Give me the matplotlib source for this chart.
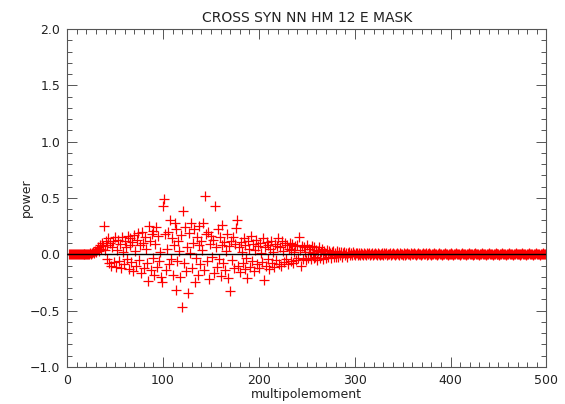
import numpy as np
import matplotlib
matplotlib.use("Agg")
from matplotlib import pyplot as plt
from matplotlib.ticker import MultipleLocator, FuncFormatter

title = "CROSS SYN NN HM 12 E MASK"
xlabel = "multipolemoment"
ylabel = "power"

# multipoles 2..500, one value each
ell = np.arange(2, 501)

power_low = [
    0.0, 0.0, 0.0, 0.0, 0.0, 0.0, 0.0, 0.0, 0.0, 0.0,
    0.0, 0.0, 0.0, 0.0, 0.0, 0.0, 0.0, 0.0, 0.0, 0.0,
    0.0, 0.0, 0.01, 0.0, 0.01, 0.02, 0.01, 0.03, 0.02, 0.04,
    0.06, 0.03, 0.08, 0.05, 0.10, 0.07, 0.25, 0.04, 0.12, 0.08,
    -0.04, 0.14, -0.08, 0.10, -0.10, 0.06, 0.12, -0.07, 0.15, -0.11,
    0.04, 0.13, -0.06, 0.09, -0.12, 0.15, 0.02, -0.09, 0.12, 0.06,
    -0.04, 0.16, -0.13, 0.08, 0.14, -0.07, 0.11, -0.15, 0.17, 0.03,
    -0.10, 0.13, 0.19, -0.05, 0.08, -0.17, 0.20, 0.10, -0.12, 0.15,
    0.05, -0.08, -0.24, 0.25, 0.12, -0.14, 0.18, -0.03, 0.21, -0.18,
    0.09, 0.24, -0.11, 0.16, -0.06, 0.02, -0.20, -0.25, 0.43, 0.49,
    0.18, -0.14, 0.05, 0.20, -0.09, 0.30, -0.04, 0.14, -0.18, 0.08,
    0.28, -0.32, 0.22, -0.06, 0.12, 0.03, -0.20, 0.17, -0.47, 0.38,
    -0.08, 0.24, -0.15, 0.06, -0.34, 0.19, 0.01, 0.28, -0.12, 0.10,
    0.22, -0.25, -0.03, 0.15, -0.18, 0.08, 0.25, -0.09, 0.12, 0.04,
    0.28, -0.14, 0.52, 0.18, -0.06, 0.20, -0.22, 0.09, 0.16, -0.02,
    0.13, -0.17, 0.43, 0.06, -0.11, 0.22, -0.04, 0.15, -0.19, 0.08,
    0.26, -0.08, 0.11, -0.14, 0.03, 0.18, -0.21, 0.07, -0.33, 0.12,
    -0.05, 0.15, -0.12, 0.09, 0.23, 0.30, -0.10, 0.06, -0.16, 0.11,
    0.02, -0.08, 0.14, -0.13, 0.08, -0.03, -0.21, 0.12, 0.05, -0.11,
    0.16, -0.06, 0.09, -0.15, 0.04, 0.13, -0.09, 0.07, -0.12, 0.10,
    0.01, -0.07, 0.14, -0.23, 0.06, -0.10, 0.11, -0.04, 0.08, -0.13,
    0.05, 0.12, -0.08, 0.02, -0.11, 0.09, -0.05, 0.07, 0.14, -0.09,
    0.06, -0.10, 0.12, 0.03, -0.07, 0.10, -0.04, 0.08, -0.09, 0.05,
    0.10, -0.06, 0.04, 0.09, -0.08, 0.02, 0.07, -0.05, 0.08, -0.03,
    0.15, 0.04, -0.10, 0.07, -0.04, 0.06, 0.02, -0.05, 0.08, -0.03,
    0.05, 0.02, -0.04, 0.07, 0.01, -0.03, 0.06, -0.02, 0.04, -0.05,
    0.03, 0.06, -0.03, 0.02, 0.05, -0.04, 0.03, 0.01, -0.03, 0.04,
    -0.02, 0.03, 0.01, -0.03, 0.02, 0.03, -0.02, 0.01, -0.02, 0.03,
    0.01, -0.02, 0.02, -0.01, 0.02, -0.02, 0.01, 0.02, -0.01, 0.01,
    -0.02, 0.01, 0.02, -0.01, 0.01, -0.01, 0.02, 0.0, -0.01, 0.01,
]

power_high = [
    0.01, -0.01, 0.0, 0.01, -0.01, 0.01, 0.0, -0.01, 0.01, 0.0,
    -0.01, 0.01, 0.0, 0.01, -0.01, 0.0, 0.01, -0.01, 0.0, 0.01,
    0.0, -0.01, 0.01, 0.0, -0.01, 0.0, 0.01, 0.0, -0.01, 0.01,
    0.0, 0.01, -0.01, 0.0, 0.0, 0.01, -0.01, 0.0, 0.01, 0.0,
    -0.01, 0.0, 0.01, 0.0, -0.01, 0.01, 0.0, 0.0, -0.01, 0.01,
    0.0, -0.01, 0.0, 0.01, 0.0, 0.0, -0.01, 0.01, 0.0, 0.0,
    0.01, 0.0, -0.01, 0.0, 0.01, 0.0, 0.0, -0.01, 0.0, 0.01,
    0.0, 0.0, 0.01, -0.01, 0.0, 0.0, 0.01, 0.0, -0.01, 0.0,
    0.0, 0.01, 0.0, 0.0, -0.01, 0.0, 0.01, 0.0, 0.0, -0.01,
    0.0, 0.0, 0.01, 0.0, 0.0, -0.01, 0.0, 0.0, 0.01, 0.0,
    0.0, -0.01, 0.0, 0.0, 0.01, 0.0, 0.0, 0.0, -0.01, 0.0,
    0.01, 0.0, 0.0, 0.0, -0.01, 0.0, 0.0, 0.01, 0.0, 0.0,
    0.0, -0.01, 0.0, 0.0, 0.01, 0.0, 0.0, 0.0, -0.01, 0.0,
    0.0, 0.01, 0.0, 0.0, 0.0, -0.01, 0.0, 0.0, 0.01, 0.0,
    0.0, 0.0, -0.01, 0.0, 0.0, 0.01, 0.0, 0.0, 0.0, -0.01,
    0.0, 0.0, 0.01, 0.0, 0.0, 0.0, -0.01, 0.0, 0.0, 0.01,
    0.0, 0.0, 0.0, -0.01, 0.0, 0.0, 0.01, 0.0, 0.0, 0.0,
    -0.01, 0.0, 0.0, 0.01, 0.0, 0.0, 0.0, -0.01, 0.0, 0.0,
    0.01, 0.0, 0.0, 0.0, -0.01, 0.0, 0.0, 0.01, 0.0, 0.0,
    0.0, -0.01, 0.0, 0.0, 0.01, 0.0, 0.0, 0.0, 0.0,
]

power = np.array(power_low + power_high)

plt.rcParams['font.family'] = ['DejaVu Sans']
fig = plt.figure(figsize=(5.65, 4.04), dpi=100)
ax = fig.add_axes([0.119, 0.092, 0.848, 0.836])

ax.plot(ell, power, linestyle='none', marker='+', color='red',
        markersize=6.5, markeredgewidth=0.9, zorder=2)
ax.axhline(0, color='black', linewidth=1.0, zorder=3)

ax.set_xlim(0, 500)
ax.set_ylim(-1.0, 2.0)
ax.xaxis.set_major_locator(MultipleLocator(100))
ax.xaxis.set_minor_locator(MultipleLocator(10))
ax.yaxis.set_major_locator(MultipleLocator(0.5))
ax.yaxis.set_minor_locator(MultipleLocator(0.1))
ax.yaxis.set_major_formatter(FuncFormatter(lambda v, p: f"{v:.1f}".replace("-", "\u2212")))

for s in ax.spines.values():
    s.set_color('#555555')
    s.set_linewidth(0.8)
ax.tick_params(which='both', direction='in', top=True, right=True,
               color='#555555', width=0.7, labelsize=9, labelcolor='#222222')
ax.tick_params(which='major', length=7, pad=5)
ax.tick_params(which='minor', length=3.5)

ax.set_title(title, fontsize=10, color='#222222', pad=5)
ax.set_xlabel(xlabel, fontsize=9, color='#222222', labelpad=1)
ax.set_ylabel(ylabel, fontsize=9, color='#222222', labelpad=-2)

fig.savefig("out.png", dpi=100)
